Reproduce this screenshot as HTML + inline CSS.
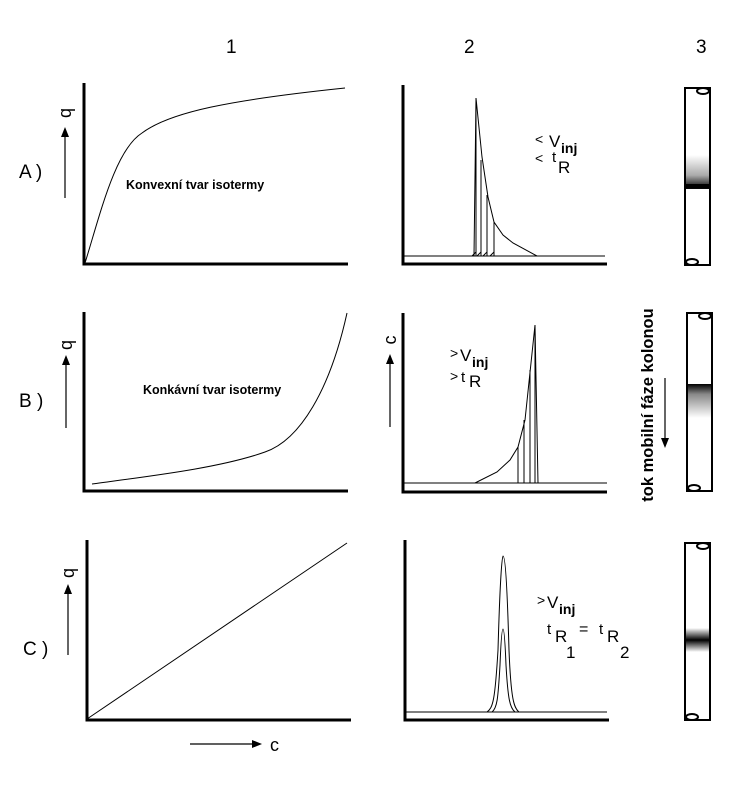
<!DOCTYPE html>
<html><head><meta charset="utf-8"><style>body{margin:0;background:#fff}svg{display:block}</style></head>
<body>
<svg width="737" height="787" viewBox="0 0 737 787" xmlns="http://www.w3.org/2000/svg" font-family="Liberation Sans, sans-serif">
<defs>
<linearGradient id="gA" x1="0" y1="0" x2="0" y2="1"><stop offset="0" stop-color="#fff"/><stop offset="0.6" stop-color="#aaa"/><stop offset="1" stop-color="#000"/></linearGradient>
<linearGradient id="gB" x1="0" y1="0" x2="0" y2="1"><stop offset="0" stop-color="#000"/><stop offset="0.3" stop-color="#888"/><stop offset="1" stop-color="#fff"/></linearGradient>
<linearGradient id="gC" x1="0" y1="0" x2="0" y2="1"><stop offset="0" stop-color="#fff"/><stop offset="0.5" stop-color="#000"/><stop offset="1" stop-color="#fff"/></linearGradient>
</defs>
<g font-size="19" fill="#000">
<text x="226" y="53">1</text><text x="464" y="53">2</text><text x="696" y="53">3</text>
<text x="19" y="178">A )</text><text x="19" y="407">B )</text><text x="23" y="655">C )</text>
</g>
<g stroke="#000" fill="none">
<path d="M84 83V264H348" stroke-width="3"/>
<path d="M84 312V491H348" stroke-width="3"/>
<path d="M87 540V720H351" stroke-width="3"/>
<path d="M85 263C100 215 115 150 142 133C170 112 230 100 345 88" stroke-width="1"/>
<path d="M92 484C150 476 220 468 265 452C300 440 330 390 347 313" stroke-width="1"/>
<path d="M87 719L347 543" stroke-width="1"/>
<path d="M65 198V135" stroke-width="1.2"/>
<path d="M66 428V362" stroke-width="1.2"/>
<path d="M68 655V592" stroke-width="1.2"/>
<path d="M190 744H254" stroke-width="1.2"/>
<path d="M390 427V362" stroke-width="1.2"/>
<path d="M665 378V440" stroke-width="1.2"/>
<path d="M403 85V264H607" stroke-width="3"/>
<path d="M403 313V492H607" stroke-width="3"/>
<path d="M405 540V720H609" stroke-width="3"/>
<path d="M403 256H605" stroke-width="1"/>
<path d="M474 256L476 98L482 157L488 197L494 222L503 235L513 243L537 256" stroke-width="1"/>
<path d="M476 256V100M481 256V160M487 256V195M494 256V222" stroke-width="1"/>
<path d="M472 256L476 252M477 256L481 252M483 256L487 252M490 256L494 252" stroke-width="1"/>
<path d="M403 483H607" stroke-width="1"/>
<path d="M475 483L497 472L510 460L518 447L525 420L535 325L538 483" stroke-width="1"/>
<path d="M518 447V483M524 420V483M530 370V483M535 325V483" stroke-width="1"/>
<path d="M405 712H607" stroke-width="1"/>
<path d="M487 712C493 708 495 700 498 650C500 580 502 556 503 556C505 556 507 580 509 650C511 700 514 708 519 712" stroke-width="1"/>
<path d="M492 712C497 708 498 700 500 665C501 640 502 629 503 629C504 629 505 640 506 665C508 700 510 708 515 712" stroke-width="1"/>
</g>
<g fill="#000">
<path d="M65 127L61 137H69Z"/><path d="M66 355L62 365H70Z"/><path d="M68 584L64 594H72Z"/>
<path d="M262 744L252 740V748Z"/><path d="M390 354L386 364H394Z"/><path d="M665 448L661 438H669Z"/>
</g>
<g stroke="#000" stroke-width="2" fill="#fff">
<rect x="685" y="88" width="25" height="177"/>
<rect x="687" y="313" width="25" height="178"/>
<rect x="685" y="543" width="25" height="177"/>
</g>
<rect x="686" y="155" width="23" height="34" fill="url(#gA)"/>
<rect x="686" y="184" width="23" height="4" fill="#000"/>
<rect x="688" y="384" width="23" height="34" fill="url(#gB)"/>
<rect x="686" y="628" width="23" height="24" fill="url(#gC)"/>
<g stroke="#000" stroke-width="2" fill="#fff">
<ellipse cx="703" cy="91" rx="6" ry="3"/><ellipse cx="692" cy="262" rx="6" ry="3"/>
<ellipse cx="705" cy="316" rx="6" ry="3"/><ellipse cx="694" cy="488" rx="6" ry="3"/>
<ellipse cx="703" cy="546" rx="6" ry="3"/><ellipse cx="692" cy="717" rx="6" ry="3"/>
</g>
<g font-weight="bold" font-size="12.5" fill="#000">
<text x="126" y="189">Konvexní tvar isotermy</text>
<text x="143" y="394">Konkávní tvar isotermy</text>
</g>
<g font-size="18" fill="#000">
<text transform="translate(71,113) rotate(-90)" text-anchor="middle">q</text>
<text transform="translate(72,345) rotate(-90)" text-anchor="middle">q</text>
<text transform="translate(74,573) rotate(-90)" text-anchor="middle">q</text>
<text transform="translate(396,340) rotate(-90)" text-anchor="middle">c</text>
<text x="270" y="751">c</text>
</g>
<text transform="translate(653,405) rotate(-90)" text-anchor="middle" font-size="16.5" font-weight="bold">tok mobilní fáze kolonou</text>
<g font-size="14" fill="#000">
<text x="535" y="144">&lt;</text><text x="549" y="147" font-size="17">V</text><text x="561" y="153" font-weight="bold">inj</text>
<text x="535" y="163">&lt;</text><text x="552" y="162" font-size="15">t</text><text x="558" y="173" font-size="17">R</text>
<text x="450" y="358">&gt;</text><text x="460" y="361" font-size="17">V</text><text x="472" y="367" font-weight="bold">inj</text>
<text x="450" y="381">&gt;</text><text x="461" y="382" font-size="15">t</text><text x="469" y="387" font-size="17">R</text>
<text x="537" y="605">&gt;</text><text x="547" y="608" font-size="17">V</text><text x="559" y="614" font-weight="bold">inj</text>
<text x="547" y="634" font-size="15">t</text><text x="555" y="642" font-size="17">R</text><text x="566" y="658" font-size="17">1</text>
<text x="579" y="634" font-size="16">=</text>
<text x="599" y="634" font-size="15">t</text><text x="607" y="642" font-size="17">R</text><text x="620" y="658" font-size="17">2</text>
</g>
</svg>
</body></html>
